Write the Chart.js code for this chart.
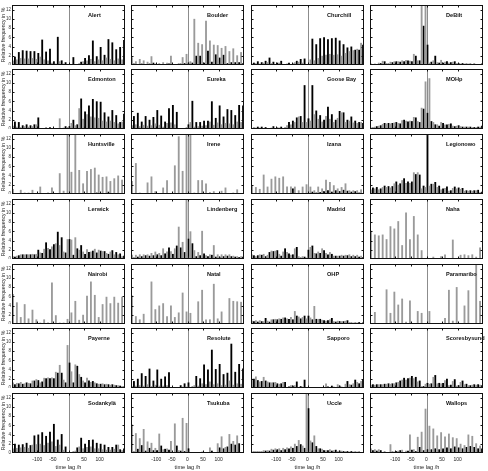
<!DOCTYPE html>
<html><head><meta charset="utf-8">
<script src="https://cdn.jsdelivr.net/npm/chart.js@4.4.1/dist/chart.umd.min.js"></script>
<style>
html,body{margin:0;padding:0;background:#fff;}
#wrap{position:relative;width:488px;height:471px;overflow:hidden;background:#fff;}
#wrap canvas{position:absolute;}
</style>
</head><body><div id="wrap"></div>
<script>
// ---- data ----
const lagBins = [-140,-130,-120,-110,-100,-90,-80,-70,-60,-50,-40,-30,-20,-10,0,10,20,30,40,50,60,70,80,90,100,110,120,130,140];
const xTickValues = [-100,-50,0,50,100];
const yTickValues = [0,2,4,6,8,10,12];
const stations = ['Alert','Boulder','Churchill','DeBilt','Edmonton','Eureka','Goose Bay','MOHp','Huntsville','Irene','Izana','Legionowo','Lerwick','Lindenberg','Madrid','Naha','Nairobi','Natal','OHP','Paramaribo','Payerne','Resolute','Sapporo','Scoresbysund','Sodankylä','Tsukuba','Uccle','Wallops'];

const alertBlack = [1.8,2.8,3.2,3.1,3.0,3.0,2.6,5.5,2.9,3.5,0.8,6.1,1.0,0.6,0,1.7,0,0.7,1.5,2.1,5.3,1.9,3.9,2.2,5.6,4.9,3.4,3.9,5.4];
const alertGray = [1.0,1.2,1.5,1.4,1.4,1.5,1.3,1.8,1.2,1.0,0.5,0.3,0.8,0.3,0,0,0,0.4,0.8,1.0,1.3,0.8,1.2,1.0,1.6,1.3,1.0,1.4,1.2];
const boulderBlack = [0.3,0.2,0.3,0.2,0.3,0.5,0.1,0.1,0.2,0.3,0.2,0,0.3,0.4,0.5,0.5,2.0,2.0,0.5,3.1,0.7,2.3,1.6,2.2,0.4,0.6,0.6,0.6,0.4];
const boulderGray = [1.7,0.8,1.3,1.0,0.7,1.9,0.3,0.4,0.6,0.5,2.0,0,0.4,1.7,2.4,0.8,10.0,4.8,4.5,9.6,5.3,4.4,4.3,3.7,4.1,3.0,3.6,2.1,2.8];
const churchillBlack = [0.5,0.8,0.6,0.9,1.6,0.7,0.5,0.9,0.1,0.5,0.3,0.9,1.3,1.4,0,5.7,4.5,5.8,6.0,5.6,5.8,5.9,5.3,4.5,3.8,4.0,3.3,3.3,4.4];
const churchillGray = [0.3,0.4,0.3,0.5,0.6,0.4,0.2,0.5,0.1,0.3,0.2,0.6,0.7,0.5,0.2,1.2,1.0,1.5,2.0,2.2,2.4,2.2,2.3,2.0,2.6,3.0,3.2,3.5,4.8];
const debiltBlack = [0.2,0.2,0.4,0.8,0.3,0.6,0.8,0.7,0.8,1.0,0.8,2.0,1.0,8.5,4.4,0.7,2.0,0.5,0.5,0.8,0.6,0.8,0.4,0.4,0.3,0.3,0.3,0.2,0.3];
const debiltGray = [0.3,0.3,0.5,0.9,0.4,0.7,0.8,0.8,1.0,1.1,0.9,2.4,1.0,15,15,0.5,1.0,0.6,1.1,0.7,0.5,0.7,0.4,0.3,0.3,0.3,0.2,0.2,0.2];
const edmontonBlack = [1.6,1.5,0.8,1.0,0.8,1.0,2.5,0,0.3,0.4,0,0.2,0,0.6,0.6,2.0,1.0,6.6,3.8,5.1,6.5,6.0,5.9,3.6,2.7,4.1,3.0,1.5,3.3];
const edmontonGray = [0.7,0.5,0.4,0.6,0.5,0.6,1.0,0,0.2,0.2,0,0.1,2.3,0.3,0.4,1.3,0.8,4.5,2.2,3.2,2.7,2.5,2.4,1.8,1.6,1.8,1.5,1.2,1.6];
const eurekaBlack = [2.8,3.5,1.6,2.8,2.0,2.6,4.1,2.9,1.6,4.5,5.2,3.7,0.2,0,1.0,6.1,1.5,1.5,1.8,1.8,6.0,2.4,5.1,2.7,4.3,4.1,3.0,5.2,5.1];
const eurekaGray = [0.8,1.0,0.6,0.9,0.7,0.8,1.2,0.9,0.5,1.3,1.4,1.0,0.1,0,0.4,1.5,0.5,0.6,0.7,0.8,1.6,0.9,1.4,1.0,1.3,1.2,1.0,1.6,1.5];
const gooseBayBlack = [0.3,0.5,0.5,0.4,0.2,0.6,0.3,0.5,0.3,1.5,1.8,2.5,2.8,9.5,2.3,9.5,4.0,3.0,2.0,4.8,3.2,2.0,3.9,3.6,2.0,2.7,1.8,1.5,1.3];
const gooseBayGray = [0.2,0.3,0.3,0.2,0.1,0.3,0.2,0.3,0.2,0.8,1.0,1.5,2.7,1.5,1.5,1.8,3.2,2.2,1.6,2.8,2.2,1.5,2.4,3.6,1.5,1.8,1.4,1.3,1.5];
const mohpBlack = [0.3,0.6,0.8,1.3,1.3,1.3,1.5,1.2,2.0,1.6,1.7,2.5,1.5,4.4,3.5,1.7,1.0,0.7,1.3,1.0,1.2,0.6,0.8,0.5,0.5,0.5,0.4,0.5,0.7];
const mohpGray = [0.3,0.5,0.7,1.1,1.2,1.2,1.4,1.3,1.9,1.8,1.8,2.6,1.7,4.6,10.3,11.0,1.5,1.0,1.5,1.0,1.1,0.7,0.7,0.6,0.5,0.5,0.4,0.4,0.5];
const huntsvilleBlack = [0,0,0,0,0,0,0,0,0,0,0,0,0,0,0,0,0,0,0,0,0.2,0.3,0,0.2,0.5,0.2,0.2,0,0.2];
const huntsvilleGray = [1.1,0,0.9,0.3,0.3,0.9,0,1.6,0,0.3,1.4,0,4.5,0.7,15,4.8,15,5.2,2.3,5.0,5.4,5.7,4.2,3.7,3.8,2.8,3.4,4.0,3.1];
const ireneBlack = [0,0,0,0,0,0,0,0,0,0,0,0,0,0,0,0,0,0,0,0,0,0,0,0,0,0,0,0,0];
const ireneGray = [2.8,6.7,0.3,0,2.5,3.8,0.6,0,1.4,3.0,0,6.2,12.5,5.0,15,15,0.3,3.0,3.0,2.3,0.4,0.6,0,0.7,1.4,0,0.3,1.0,0];
const izanaBlack = [0.1,0,0.2,0,0,0,0,0,0,0,1.2,0,0,0,0,0.5,0.3,0.4,0.6,0.8,0.5,0.8,0.6,0.9,0.7,0.5,0.6,0.3,0];
const izanaGray = [1.9,1.5,1.1,4.2,1.6,3.3,3.8,3.5,3.8,1.6,1.6,1.6,0.8,1.6,2.1,1.6,0.8,1.6,1.2,3.1,2.6,1.9,1.2,1.5,2.3,0.8,0.8,0.8,1.0];
const legionowoBlack = [1.4,1.5,1.2,1.8,1.7,1.7,2.7,2.3,3.4,2.7,2.7,4.3,4.2,1.8,15,2.2,2.6,1.8,1.2,1.6,0.8,1.6,1.4,1.3,0.8,0.8,0.8,0.9,0.5];
const legionowoGray = [1.0,1.2,1.0,1.5,1.5,1.4,2.3,2.0,3.0,2.4,2.4,4.7,4.7,1.2,1.5,1.8,2.2,1.5,1.0,1.3,0.7,1.3,1.2,1.1,0.7,0.7,0.7,0.8,0.4];
const lerwickBlack = [0.5,0.8,1.0,1.0,1.0,1.0,2.0,1.3,3.6,2.1,3.2,5.9,4.7,1.4,4.3,0.9,2.3,3.0,1.1,1.5,1.8,1.4,1.8,1.7,1.1,1.9,1.5,1.2,0.7];
const lerwickGray = [0.6,0.7,1.0,1.0,1.0,1.1,1.1,1.4,2.2,2.4,2.7,3.4,3.0,1.6,4.3,4.2,4.7,2.0,1.6,2.1,1.6,2.2,2.0,1.7,1.3,1.6,1.0,1.0,0.6];
const lindenbergBlack = [0.3,0.5,0.6,0.8,0.7,0.8,1.0,0.8,1.2,2.5,1.1,2.9,2.5,1.5,4.4,3.4,0.6,0.8,1.2,0.6,0.9,0.5,0.5,0.6,0.7,0.6,0.5,0.4,0.5];
const lindenbergGray = [0.9,0.9,1.0,1.0,1.0,1.3,1.6,1.3,2.3,1.6,1.7,2.3,7.0,3.7,15,6.0,1.9,1.5,6.1,0.8,1.0,3.0,1.0,1.0,1.0,1.0,0.7,0.6,0.6];
const madridBlack = [0.8,0.8,0.9,0.6,1.5,1.7,1.9,0.7,2.3,1.2,1.0,2.6,0.3,0.5,2.0,2.9,1.2,1.3,1.9,1.0,1.1,0.7,0.7,0.7,0.8,0.6,0.6,0.5,0.4];
const madridGray = [1.0,0.6,1.0,1.1,0.9,1.8,1.8,1.1,1.6,1.5,0.9,2.3,0.6,0.6,0.3,2.6,1.3,1.6,2.3,1.3,1.5,0.7,0.7,0.9,0.9,1.0,0.9,0.9,0.7];
const nahaBlack = [0,0,0,0,0,0,0,0,0,0,0,0,0,0,0,0,0,0,0,0,0,0,0,0,0,0,0,0,0];
const nahaGray = [6.1,5.3,5.1,5.3,4.3,7.1,6.6,8.2,3.0,10.1,4.3,9.3,5.3,1.9,0,0,0.5,0,0.6,1.0,0,4.2,0,0.9,1.0,0.8,1.0,0.5,2.5];
const nairobiBlack = [0,0,0,0,0,0,0,0,0,0,0,0,0,0,0,0,0,0,0,0,0,0,0,0,0,0,0,0,0];
const nairobiGray = [6.5,4.7,1.5,4.3,1.2,3.1,1.0,0.3,1.0,0.3,9.0,1.9,0.3,0.3,1.1,2.5,5.0,0.9,2.0,6.1,9.2,6.3,1.5,4.3,5.9,4.5,5.9,4.6,5.9];
const natalBlack = [0,0,0,0,0,0,0,0,0,0,0,0,0,0,0,0,0,0,0,0,0,0,0,0,0,0,0,0,0];
const natalGray = [6.2,1.7,1.0,2.2,0,9.2,3.2,4.0,4.5,1.7,4.0,1.5,2.5,6.8,2.7,2.4,0,4.9,7.4,1.0,1.0,8.7,1.2,2.7,0,5.6,5.0,4.9,4.8];
const ohpBlack = [0.6,0.5,0.6,1.3,0.5,1.0,1.0,1.1,1.4,1.1,1.0,1.8,1.2,1.8,1.8,1.0,1.1,1.1,0.8,0.8,1.3,0.5,0.6,0.6,0.8,0.3,0.3,0.4,0.3];
const ohpGray = [0.7,0.8,0.8,0.6,0.7,1.0,1.1,1.2,1.4,1.2,1.5,2.8,1.6,1.5,1.2,1.4,3.9,1.1,0.9,0.7,1.0,0.6,0.7,0.6,0.7,0.4,0.3,0.3,0.2];
const paramariboBlack = [0,0,0,0,0,0,0,0,0,0,0,0,0,0,0,0,0,0,0,0,0,0,0,0,0,0,0,0,0];
const paramariboGray = [0,2.6,0,0.2,7.5,2.4,7.0,4.2,5.5,0.5,5.1,0,2.8,2.4,0,2.8,0,0,0,1.3,7.4,0.7,8.0,0,4.0,7.3,0,15,5.0];
const payerneBlack = [0.8,1.0,0.9,1.2,1.0,1.6,1.7,1.4,2.1,2.1,2.1,3.3,3.3,1.2,5.5,1.2,4.8,2.4,1.2,1.6,1.5,1.0,0.9,0.8,0.8,0.8,0.6,0.5,0.3];
const payerneGray = [1.2,1.1,1.3,1.0,1.1,1.6,1.9,1.2,2.2,2.3,2.3,3.5,5.0,1.8,9.3,3.6,5.1,3.0,1.6,2.2,1.3,1.2,0.9,1.0,0.9,0.7,0.7,0.6,0.4];
const resoluteBlack = [1.5,2.0,3.2,2.6,4.2,1.6,4.0,2.0,2.5,3.4,0,0,0.6,1.0,1.2,0.3,2.6,2.1,5.1,4.0,8.3,4.1,5.2,3.0,3.3,9.6,3.5,5.2,4.2];
const resoluteGray = [0.4,0.5,0.6,0.5,0.8,0.4,0.7,0.5,0.5,0.6,0,0,0.2,0.3,0.3,0.1,0.6,0.5,1.0,0.8,1.4,0.8,1.0,0.6,0.7,1.6,0.7,1.0,0.9];
const sapporoBlack = [2.0,1.7,1.5,1.6,1.2,1.2,1.0,1.0,1.3,0.3,0.5,1.4,0.4,1.8,0,0,0.1,0,0,0.3,0.5,0.1,0.5,0,1.5,0.7,1.8,1.0,1.8];
const sapporoGray = [2.0,2.5,1.4,2.4,1.4,1.2,1.3,0.9,1.3,0.2,0.6,0.6,0.2,0.3,0,0,0.2,0.1,0,1.0,0.2,0.3,0.8,0.3,0.9,0.8,1.0,1.3,1.5];
const scoresbysundBlack = [0.8,0.8,0.8,0.9,1.0,1.0,1.2,1.6,2.2,2.1,2.6,2.4,1.6,0.4,1.1,1.0,2.8,1.1,1.1,2.0,0.7,1.9,0.6,1.6,0.9,0.6,0.8,0.8,0.6];
const scoresbysundGray = [0.7,0.7,0.8,0.8,0.9,0.9,1.0,1.3,1.8,1.8,2.2,2.1,1.4,0.4,0.9,0.9,2.4,1.0,1.0,1.7,0.6,1.5,0.5,1.3,0.8,0.6,0.7,0.7,0.7];
const sodankylaBlack = [2.0,1.8,1.9,2.2,1.7,3.8,4.0,4.5,3.7,4.6,6.3,2.9,4.1,1.4,0,0.3,1.2,3.3,2.0,2.8,2.9,2.2,2.0,1.8,1.3,1.3,1.8,0.8,1.0];
const sodankylaGray = [1.0,1.1,1.2,1.3,1.1,1.8,1.9,2.0,1.7,2.2,2.5,1.5,1.8,0.7,0,0.1,0.5,1.4,1.0,1.3,1.4,1.0,1.0,0.8,0.7,0.7,0.9,1.8,0.6];
const tsukubaBlack = [0.3,0.9,1.7,0.5,1.1,0.6,0.6,1.6,0.9,0.7,0.2,1.6,0.5,0.4,1.0,0,0,0,0,0,0.5,0,1.2,1.0,1.4,2.0,1.8,2.1,0];
const tsukubaGray = [6.2,4.3,3.2,5.2,2.5,2.2,1.1,4.2,0.8,1.0,2.6,6.4,0.6,7.6,6.5,0,0,0.2,0.3,0,1.2,0,2.1,3.6,1.3,4.1,2.6,3.8,0];
const uccleBlack = [0.3,0.3,0.3,0.5,0.5,0.7,0.8,0.6,0.8,1.0,1.1,1.5,1.9,1.1,9.7,2.3,1.5,1.0,0.6,0.6,0.5,0.7,0.5,0.4,0.4,0.4,0.3,0.3,0.2];
const uccleGray = [0.3,0.4,0.4,0.6,0.6,0.9,1.0,1.0,1.1,1.2,1.4,2.0,2.8,1.6,15,2.7,3.8,1.0,0.9,0.6,0.8,0.6,0.4,0.5,0.4,0.3,0.3,0.3,0.2];
const wallopsBlack = [0.6,0.5,0.6,0.3,0.1,0.3,0.4,0.6,0.2,0.5,0.7,0.4,1.3,0.6,0.8,0.8,1.0,0.8,1.0,1.2,1.0,1.4,1.2,1.0,1.3,1.5,1.3,1.0,1.0];
const wallopsGray = [1.0,0.8,0.8,0.2,0.2,1.9,0.3,0.5,0.7,0.5,4.0,0.8,3.5,4.6,9.6,5.9,5.3,3.8,4.5,3.6,4.2,3.4,3.2,2.0,1.7,4.0,3.7,2.1,1.6];

const blackSeries = [alertBlack,boulderBlack,churchillBlack,debiltBlack,edmontonBlack,eurekaBlack,gooseBayBlack,mohpBlack,huntsvilleBlack,ireneBlack,izanaBlack,legionowoBlack,lerwickBlack,lindenbergBlack,madridBlack,nahaBlack,nairobiBlack,natalBlack,ohpBlack,paramariboBlack,payerneBlack,resoluteBlack,sapporoBlack,scoresbysundBlack,sodankylaBlack,tsukubaBlack,uccleBlack,wallopsBlack];
const graySeries = [alertGray,boulderGray,churchillGray,debiltGray,edmontonGray,eurekaGray,gooseBayGray,mohpGray,huntsvilleGray,ireneGray,izanaGray,legionowoGray,lerwickGray,lindenbergGray,madridGray,nahaGray,nairobiGray,natalGray,ohpGray,paramariboGray,payerneGray,resoluteGray,sapporoGray,scoresbysundGray,sodankylaGray,tsukubaGray,uccleGray,wallopsGray];

// ---- layout ----
const FONT = '"Liberation Sans", Arial, Helvetica, sans-serif';
const colLeft = [12,131,251,370];
const rowTop = [5,69,134,199,264,328,393];
const panelW = 113, panelH = 60;
const yAxisW = 12, xAxisH = 18, rightPad = 5;

const panelPlugin = {
  id: 'panel',
  beforeDatasetsDraw(chart) {
    const {ctx, chartArea: a} = chart;
    const xs = chart.scales.xl;
    const x0 = Math.round(xs.getPixelForValue(0)) + 0.5;
    ctx.save();
    ctx.strokeStyle = '#8c8c8c';
    ctx.lineWidth = 1;
    ctx.beginPath(); ctx.moveTo(x0, a.top); ctx.lineTo(x0, a.bottom); ctx.stroke();
    ctx.restore();
  },
  afterDraw(chart, args, opts) {
    const {ctx, chartArea: a} = chart;
    const xs = chart.scales.xl, ys = chart.scales.y;
    ctx.save();
    ctx.strokeStyle = '#111';
    ctx.lineWidth = 1;
    ctx.strokeRect(a.left + 0.5, a.top + 0.5, a.right - a.left - 1, a.bottom - a.top - 1);
    ctx.beginPath();
    for (const v of yTickValues) {
      if (v === 0) continue;
      const y = Math.round(ys.getPixelForValue(v)) + 0.5;
      ctx.moveTo(a.left, y); ctx.lineTo(a.left + 2.5, y);
      ctx.moveTo(a.right, y); ctx.lineTo(a.right - 2.5, y);
    }
    for (const v of xTickValues) {
      const x = Math.round(xs.getPixelForValue(v)) + 0.5;
      ctx.moveTo(x, a.top); ctx.lineTo(x, a.top + 2.5);
      ctx.moveTo(x, a.bottom); ctx.lineTo(x, a.bottom - 2.5);
    }
    ctx.stroke();
    ctx.fillStyle = '#111';
    ctx.font = 'bold 5.6px ' + FONT;
    ctx.textBaseline = 'middle';
    ctx.textAlign = 'left';
    ctx.fillText(opts.name, a.left + 76, a.top + 10);
    ctx.restore();
  }
};

const wrap = document.getElementById('wrap');
stations.forEach((name, p) => {
  const row = Math.floor(p / 4), col = p % 4;
  const isLeft = col === 0, isBottom = row === 6, isRight = col === 3;
  const cv = document.createElement('canvas');
  const w = panelW + (isLeft ? yAxisW : 0) + (isRight ? rightPad : 0);
  const h = panelH + (isBottom ? xAxisH : 0);
  cv.width = w; cv.height = h;
  cv.style.left = (colLeft[col] - (isLeft ? yAxisW : 0)) + 'px';
  cv.style.top = rowTop[row] + 'px';
  cv.style.width = w + 'px'; cv.style.height = h + 'px';
  wrap.appendChild(cv);
  new Chart(cv, {
    type: 'bar',
    data: {
      labels: lagBins,
      datasets: [
        {data: graySeries[p], backgroundColor: '#9a9a9a', categoryPercentage: 1, barPercentage: 0.95, xAxisID: 'x', yAxisID: 'y'},
        {data: blackSeries[p], backgroundColor: '#000000', categoryPercentage: 1, barPercentage: 0.95, xAxisID: 'x', yAxisID: 'y'}
      ]
    },
    options: {
      responsive: false, animation: false, devicePixelRatio: 1,
      layout: {padding: {left: 0, top: 0, bottom: 0, right: isRight ? rightPad : 0}},
      events: [],
      plugins: {legend: {display: false}, tooltip: {enabled: false}, panel: {name: name}},
      scales: {
        x: {type: 'category', display: false, offset: true},
        xl: {
          type: 'linear', position: 'bottom', min: -145, max: 145, display: isBottom,
          afterBuildTicks: s => { s.ticks = xTickValues.map(v => ({value: v})); },
          afterFit: s => { s.height = isBottom ? xAxisH : 0; s.paddingLeft = 0; s.paddingRight = 0; },
          grid: {display: false, drawTicks: false}, border: {display: false},
          ticks: {font: {size: 5, family: FONT}, color: '#222', padding: 4, maxRotation: 0, autoSkip: false},
          title: {display: true, text: 'time lag /h', font: {size: 5.6, family: FONT}, color: '#222', padding: 0}
        },
        y: {
          type: 'linear', min: 0, max: 13, display: isLeft,
          afterBuildTicks: s => { s.ticks = yTickValues.map(v => ({value: v})); },
          afterFit: s => { s.width = isLeft ? yAxisW : 0; s.paddingTop = 0; s.paddingBottom = 0; },
          grid: {display: false, drawTicks: false}, border: {display: false},
          ticks: {font: {size: 4.5, family: FONT}, color: '#333', padding: 1, autoSkip: false},
          title: {display: true, text: 'Relative frequency in %', font: {size: 5.2, family: FONT}, color: '#222', padding: 0}
        }
      }
    },
    plugins: [panelPlugin]
  });
});
</script>
</body></html>
